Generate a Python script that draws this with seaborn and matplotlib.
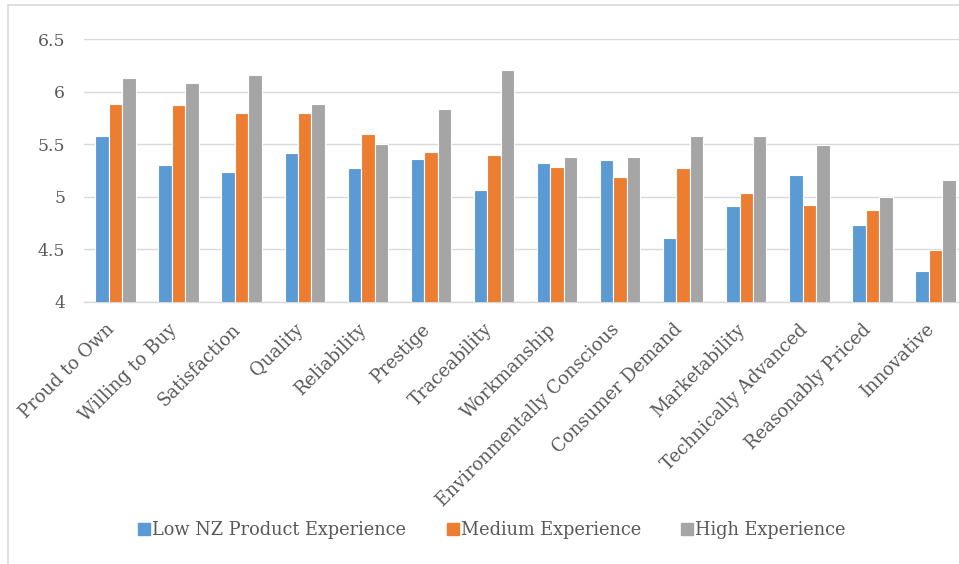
import matplotlib
matplotlib.use("Agg")
import matplotlib.pyplot as plt
from matplotlib.lines import Line2D
from matplotlib.patches import Rectangle
from matplotlib.transforms import ScaledTranslation
import seaborn as sns
import pandas as pd

categories = ["Proud to Own", "Willing to Buy", "Satisfaction", "Quality", "Reliability",
              "Prestige", "Traceability", "Workmanship", "Environmentally Conscious",
              "Consumer Demand", "Marketability", "Technically Advanced",
              "Reasonably Priced", "Innovative"]
series_names = ["Low NZ Product Experience", "Medium Experience", "High Experience"]
low_values = [5.58, 5.30, 5.24, 5.42, 5.27, 5.36, 5.06, 5.32, 5.35, 4.61, 4.91, 5.21, 4.73, 4.29]
medium_values = [5.88, 5.87, 5.80, 5.80, 5.60, 5.43, 5.40, 5.28, 5.19, 5.27, 5.04, 4.92, 4.87, 4.49]
high_values = [6.13, 6.08, 6.16, 5.88, 5.50, 5.83, 6.21, 5.38, 5.38, 5.58, 5.58, 5.49, 5.00, 5.16]
y_ticks = [4, 4.5, 5, 5.5, 6, 6.5]
y_tick_labels = ["4", "4.5", "5", "5.5", "6", "6.5"]
colors = ["#5B9BD5", "#ED7D31", "#A5A5A5"]

rows = []
for name, vals in zip(series_names, [low_values, medium_values, high_values]):
    for c, v in zip(categories, vals):
        rows.append({"category": c, "series": name, "value": v})
df = pd.DataFrame(rows)

sns.set_style("white")
plt.rcParams["font.family"] = ["DejaVu Serif"]
text_color = "#595959"

fig = plt.figure(figsize=(9.59, 5.64), dpi=100)
ax = fig.add_axes([84 / 959, 262 / 564, 883 / 959, 263 / 564])

sns.barplot(data=df, x="category", y="value", hue="series", order=categories,
            hue_order=series_names, palette=colors, saturation=1, width=0.64, ax=ax,
            edgecolor="white", linewidth=0.8, legend=False, zorder=3)

ax.set_ylim(4, 6.5)
ax.set_xlim(-0.5, len(categories) - 0.5)
ax.set_yticks(y_ticks)
ax.set_yticklabels(y_tick_labels, fontsize=12.4, color=text_color)
ax.tick_params(axis="y", length=0, pad=13.5)
ax.tick_params(axis="x", length=0, pad=15)
ax.set_xticks(range(len(categories)))
ax.set_xticklabels(categories, rotation=45, ha="right", va="center", rotation_mode="anchor",
                   fontsize=13, color=text_color)
offset = ScaledTranslation(-4 / 100, -4 / 100, fig.dpi_scale_trans)
for lbl in ax.get_xticklabels():
    lbl.set_transform(lbl.get_transform() + offset)
ax.yaxis.grid(True, color="#D9D9D9", linewidth=1.0, zorder=0)
ax.xaxis.grid(False)
for s in ["top", "right", "left"]:
    ax.spines[s].set_visible(False)
ax.spines["bottom"].set_color("#D9D9D9")
ax.spines["bottom"].set_linewidth(1.0)
ax.set_xlabel("")
ax.set_ylabel("")

handles = [Line2D([0], [0], marker="s", linestyle="", markersize=8,
                  markerfacecolor=c, markeredgecolor=c) for c in colors]
fig.legend(handles, series_names, loc="center", bbox_to_anchor=(491.5 / 959, 1 - 530 / 564),
           ncol=3, frameon=False, fontsize=12.8, labelcolor=text_color,
           handletextpad=0.05, columnspacing=2.2, handlelength=0.8)

border = Rectangle((8 / 959, -0.1), 1.2, 1.1 - 5 / 564, transform=fig.transFigure,
                   fill=False, edgecolor="#D9D9D9", linewidth=1.2)
fig.patches.append(border)

fig.savefig("out.png", dpi=100)
